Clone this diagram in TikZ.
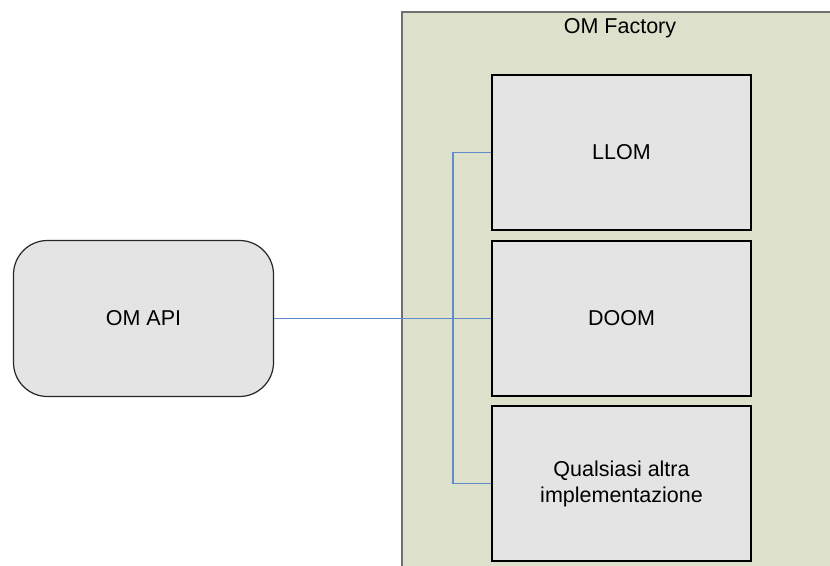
\documentclass[tikz,border=0pt]{standalone}
\usepackage{fontspec}
\setmainfont{Liberation Sans}
\usepackage{tikz}
\usetikzlibrary{positioning}
\definecolor{factoryfill}{HTML}{DDE0CB}
\definecolor{factoryline}{HTML}{6E6E6E}
\definecolor{boxfill}{HTML}{E4E4E4}
\definecolor{linkblue}{HTML}{5F8BCB}

\tikzset{
	factory/.style={draw=factoryline,fill=factoryfill,line width=1.6pt},
	impl/.style={draw=black,fill=boxfill,line width=1.5pt,minimum width=259pt,minimum height=155pt,align=center,inner sep=0pt},
	api/.style={draw=black!85,fill=boxfill,line width=1.2pt,rounded corners=34pt,minimum width=260pt,minimum height=156pt,inner sep=0pt},
	link/.style={draw=linkblue,line width=1.1pt}
}

\begin{document}
\begin{tikzpicture}[x=1pt,y=-1pt,font=\fontsize{21.5}{26}\selectfont]
	\clip (0,0) rectangle (830,565);
	\fill[white] (0,0) rectangle (830,565);
	% container
	\draw[factory] (402,12) rectangle (845,580);
	\node (title) at (620,28) {OM Factory};
	% implementations
	\node[impl] (llom) at (621.5,152.5) {LLOM};
	\node[impl] (doom) at (621.5,318.5) {DOOM};
	\node[impl] (other) at (621.5,483.5) {Qualsiasi altra\\implementazione};
	% api
	\node[api] (omapi) at (143.5,318.5) {OM API};
	% connectors
	\coordinate (bus) at (453,318.5);
	\draw[link] (omapi.east) -- (doom.west);
	\draw[link] (bus) |- (llom.west);
	\draw[link] (bus) |- (other.west);
\end{tikzpicture}
\end{document}
